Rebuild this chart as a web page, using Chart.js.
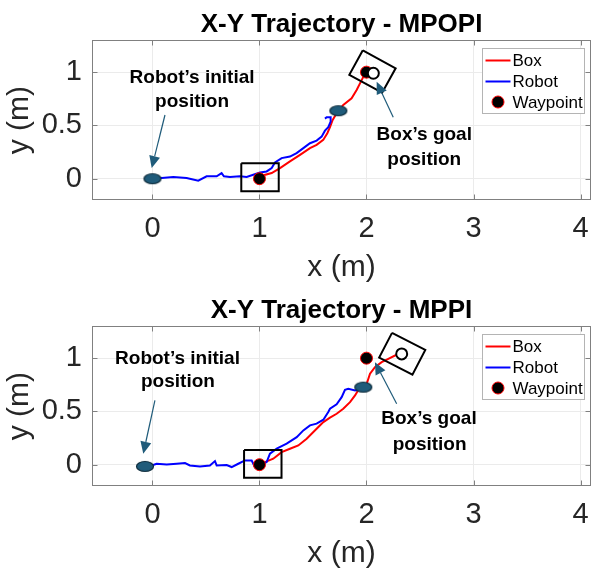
<!DOCTYPE html>
<html><head><meta charset="utf-8">
<script src="https://cdn.jsdelivr.net/npm/chart.js@4/dist/chart.umd.min.js"></script>
<style>
html,body{margin:0;padding:0;background:#fff;overflow:hidden;width:592px;height:569px}
.panel{position:absolute;left:0;width:592px;height:286px}
</style></head><body>
<div class="panel" style="top:0"><canvas id="c1" width="592" height="286"></canvas></div>
<div class="panel" style="top:286px"><canvas id="c2" width="592" height="286"></canvas></div>
<script>
// ---------- data ----------
const xTicks = [0, 1, 2, 3, 4];
const yTicks = [0, 0.5, 1];
const xRange = [-0.565, 4.098];
const yRange = [-0.2, 1.3];
const seriesNames = ['Box', 'Robot', 'Waypoint'];
const waypointX = [1, 2];
const waypointY = [0, 1];
const boxSize = [0.35, 0.262];

// MPOPI
const mpopiRobotX = [0, 0.086, 0.195, 0.319, 0.428, 0.506, 0.6, 0.646, 0.668, 0.724, 0.818, 0.88, 0.942, 1.005, 1.067, 1.114, 1.145, 1.207, 1.285, 1.347, 1.41, 1.472, 1.534, 1.581, 1.612, 1.643, 1.665, 1.665, 1.628, 1.612];
const mpopiRobotY = [0, 0.006, 0.016, 0.006, -0.019, 0.022, 0.022, 0.053, 0.022, 0.016, 0.022, 0.016, 0.037, 0.059, 0.068, 0.1, 0.152, 0.193, 0.208, 0.24, 0.287, 0.333, 0.358, 0.395, 0.451, 0.483, 0.536, 0.577, 0.577, 0.564];
const mpopiBoxX = [1.0, 1.03, 1.114, 1.192, 1.285, 1.379, 1.472, 1.534, 1.596, 1.634, 1.659, 1.684, 1.721, 1.783, 1.861, 1.908, 1.955, 1.986];
const mpopiBoxY = [0.0, 0.03, 0.053, 0.1, 0.162, 0.224, 0.287, 0.318, 0.364, 0.427, 0.483, 0.551, 0.614, 0.692, 0.754, 0.832, 0.925, 0.988];
const mpopiRobotMarkX = [0, 1.737];
const mpopiRobotMarkY = [0, 0.638];
const mpopiGoalX = [2.064];
const mpopiGoalY = [0.99];
const mpopiFrameX = [1.005, 2.056];
const mpopiFrameY = [0.014, 1.006];
const mpopiFrameAngle = [0, -28.8];
const mpopiArrowX0 = [0.117, 2.25], mpopiArrowY0 = [0.598, 0.577];
const mpopiArrowX1 = [-0.007, 2.095], mpopiArrowY1 = [0.1, 0.909];
const noteText = ['Robot\u2019s initial', 'position', 'Box\u2019s goal', 'position'];
const mpopiNoteX = [0.37, 0.37, 2.54, 2.54];
const mpopiNoteY = [0.952, 0.722, 0.411, 0.178];

// MPPI
const mppiRobotX = [-0.07, -0.007, 0.039, 0.133, 0.226, 0.304, 0.35, 0.444, 0.537, 0.584, 0.6, 0.693, 0.74, 0.802, 0.864, 0.927, 0.958, 1.0, 1.036, 1.067, 1.098, 1.161, 1.254, 1.348, 1.41, 1.472, 1.534, 1.597, 1.643, 1.659, 1.721, 1.768, 1.799, 1.83, 1.893, 1.955];
const mppiRobotY = [-0.015, -0.007, 0.009, 0.003, 0.009, 0.015, -0.007, -0.016, -0.007, 0.034, -0.007, -0.004, -0.022, 0.009, 0.04, 0.04, -0.022, 0.0, 0.009, 0.024, 0.103, 0.15, 0.197, 0.259, 0.322, 0.369, 0.385, 0.422, 0.494, 0.525, 0.566, 0.634, 0.703, 0.713, 0.697, 0.713];
const mppiBoxX = [1.0, 1.051, 1.129, 1.207, 1.285, 1.363, 1.441, 1.534, 1.597, 1.659, 1.721, 1.783, 1.846, 1.893, 1.939, 2.002, 2.033, 2.079, 2.142, 2.204, 2.266, 2.329];
const mppiBoxY = [0.0, 0.024, 0.056, 0.118, 0.15, 0.181, 0.244, 0.338, 0.4, 0.441, 0.478, 0.525, 0.587, 0.65, 0.728, 0.76, 0.854, 0.916, 0.962, 0.994, 1.025, 1.04];
const mppiRobotMarkX = [-0.07, 1.97];
const mppiRobotMarkY = [-0.016, 0.728];
const mppiGoalX = [2.329];
const mppiGoalY = [1.04];
const mppiFrameX = [1.031, 2.334];
const mppiFrameY = [0.008, 1.041];
const mppiFrameAngle = [0, -27.3];
const mppiArrowX0 = [0.023, 2.282], mppiArrowY0 = [0.603, 0.572];
const mppiArrowX1 = [-0.086, 2.079], mppiArrowY1 = [0.103, 0.962];
const mppiNoteX = [0.234, 0.238, 2.584, 2.59];
const mppiNoteY = [0.997, 0.775, 0.434, 0.19];

// ---------- helpers ----------
const TEAL = '#1f5b7a';
const FONT = "'Liberation Sans', Arial, Helvetica, sans-serif";
const zip = (xs, ys) => xs.map((v, i) => ({x: v, y: ys[i]}));

function ellipseCanvas() {
  const c = document.createElement('canvas');
  c.width = 20; c.height = 13;
  const g = c.getContext('2d');
  g.beginPath(); g.ellipse(10, 6.5, 8.5, 5, 0, 0, Math.PI * 2);
  g.fillStyle = TEAL; g.fill();
  g.lineWidth = 1.2; g.strokeStyle = '#0d2c3c'; g.stroke();
  return c;
}
const ellipseImg = ellipseCanvas();

function framePoints(cx, cy, angDeg) {
  const a = angDeg * Math.PI / 180, hw = boxSize[0] / 2, hh = boxSize[1] / 2;
  const loc = [[-hw, hh], [hw, hh], [hw, -hh], [-hw, -hh], [-hw, hh]];
  return loc.map(([u, v]) => ({x: cx + u * Math.cos(a) - v * Math.sin(a), y: cy + u * Math.sin(a) + v * Math.cos(a)}));
}

// keep the plot area running to the right edge of the canvas (as in the source figure)
const fixArea = {
  id: 'fixArea',
  afterLayout(chart) {
    const R = chart.width - 1, a = chart.chartArea;
    a.right = R; a.width = R - a.left;
    chart.boxes.forEach(b => {
      if ((b.position === 'bottom' || b.position === 'top') && !b.fullSize) {
        b.right = R; b.width = R - b.left;
        if (b.configure) b.configure();
      }
    });
  }
};

const decor = {
  id: 'decor',
  afterDraw(chart) {
    const o = chart.options.plugins.decor;
    const {ctx, chartArea: a} = chart;
    const x = chart.scales.x, y = chart.scales.y;
    ctx.save();
    ctx.strokeStyle = '#808080'; ctx.lineWidth = 1;
    const L = Math.round(a.left) + 0.5, T = Math.round(a.top) + 0.5, R = Math.round(a.right) - 0.5, B = Math.round(a.bottom) - 0.5;
    ctx.strokeRect(L, T, R - L, B - T);
    ctx.beginPath();
    xTicks.forEach(v => { const p = Math.round(x.getPixelForValue(v)) + 0.5; ctx.moveTo(p, B); ctx.lineTo(p, B - 5); ctx.moveTo(p, T); ctx.lineTo(p, T + 5); });
    yTicks.forEach(v => { const p = Math.round(y.getPixelForValue(v)) + 0.5; ctx.moveTo(L, p); ctx.lineTo(L + 5, p); ctx.moveTo(R, p); ctx.lineTo(R - 5, p); });
    ctx.stroke();
    ctx.fillStyle = '#262626'; ctx.font = '29px ' + FONT;
    ctx.textAlign = 'center'; ctx.textBaseline = 'middle';
    xTicks.forEach(v => ctx.fillText(String(v), x.getPixelForValue(v), a.bottom + 29));
    o.ax0.forEach((v, i) => {
      const x0 = x.getPixelForValue(v), y0 = y.getPixelForValue(o.ay0[i]);
      const x1 = x.getPixelForValue(o.ax1[i]), y1 = y.getPixelForValue(o.ay1[i]);
      const ang = Math.atan2(y1 - y0, x1 - x0), hl = 12, hw = 5.5;
      const bx = x1 - hl * Math.cos(ang), by = y1 - hl * Math.sin(ang);
      ctx.strokeStyle = TEAL; ctx.fillStyle = TEAL; ctx.lineWidth = 1.2;
      ctx.beginPath(); ctx.moveTo(x0, y0); ctx.lineTo(bx, by); ctx.stroke();
      ctx.beginPath(); ctx.moveTo(x1, y1);
      ctx.lineTo(bx + hw * Math.sin(ang), by - hw * Math.cos(ang));
      ctx.lineTo(bx - hw * Math.sin(ang), by + hw * Math.cos(ang));
      ctx.closePath(); ctx.fill();
    });
    ctx.fillStyle = '#000'; ctx.font = 'bold 19px ' + FONT;
    noteText.forEach((t, i) => ctx.fillText(t, x.getPixelForValue(o.nx[i]), y.getPixelForValue(o.ny[i])));
    const lw = 102, lh = 65, lx = Math.round(a.right) - 7 - lw + 0.5, ly = Math.round(a.top) + 8 + 0.5;
    ctx.fillStyle = '#fff'; ctx.fillRect(lx, ly, lw, lh);
    ctx.strokeStyle = '#b4b4b4'; ctx.lineWidth = 1; ctx.strokeRect(lx, ly, lw, lh);
    ctx.font = '17px ' + FONT; ctx.textAlign = 'left'; ctx.textBaseline = 'middle';
    const rows = [12, 33, 53.5];
    const ds = chart.data.datasets;
    [0, 1].forEach(i => {
      ctx.strokeStyle = ds[i].borderColor; ctx.lineWidth = 2;
      ctx.beginPath(); ctx.moveTo(lx + 3, ly + rows[i]); ctx.lineTo(lx + 28, ly + rows[i]); ctx.stroke();
    });
    ctx.beginPath(); ctx.arc(lx + 15.5, ly + rows[2], 6, 0, Math.PI * 2);
    ctx.fillStyle = '#000'; ctx.fill(); ctx.strokeStyle = '#ff0000'; ctx.lineWidth = 1; ctx.stroke();
    ctx.fillStyle = '#000';
    seriesNames.forEach((t, i) => ctx.fillText(t, lx + 30, ly + rows[i] + 1));
    ctx.restore();
  }
};

function makeChart(id, title, rx, ry, bx, by, mx, my, gx, gy, fx, fy, fa, ax0, ay0, ax1, ay1, nx, ny) {
  const frames = fx.map((v, i) => ({
    label: 'frame' + i, data: framePoints(v, fy[i], fa[i]), showLine: true,
    borderColor: '#000', borderWidth: 2, pointRadius: 0, order: 0, fill: false
  }));
  const datasets = [
    {label: seriesNames[0], data: zip(bx, by), showLine: true, borderColor: '#ff0000', borderWidth: 2, pointRadius: 0, order: 6},
    {label: seriesNames[1], data: zip(rx, ry), showLine: true, borderColor: '#0000ff', borderWidth: 2, pointRadius: 0, order: 5},
    {label: seriesNames[2], data: zip(waypointX, waypointY), showLine: false, pointRadius: 6, pointBackgroundColor: '#000', pointBorderColor: '#ff0000', pointBorderWidth: 1, order: 4},
    {label: 'robot', data: zip(mx, my), showLine: false, pointStyle: ellipseImg, pointRadius: 8, order: 3},
    {label: 'goal', data: zip(gx, gy), showLine: false, pointRadius: 5.5, pointBackgroundColor: '#fff', pointBorderColor: '#000', pointBorderWidth: 2, order: 2},
    ...frames
  ];
  return new Chart(document.getElementById(id), {
    type: 'scatter',
    data: {datasets},
    options: {
      responsive: false, animation: false, events: [],
      layout: {padding: {left: 0, right: 1, top: 0, bottom: 0}},
      plugins: {
        legend: {display: false}, tooltip: {enabled: false},
        title: {display: true, text: title, fullSize: false, color: '#000', font: {size: 26, weight: 'bold', family: FONT}, padding: {top: 9, bottom: 0}},
        decor: {ax0, ay0, ax1, ay1, nx, ny}
      },
      scales: {
        x: {
          type: 'linear', min: xRange[0], max: xRange[1],
          afterBuildTicks: s => { s.ticks = xTicks.map(v => ({value: v})); },
          afterFit: s => { s.height = 86; },
          ticks: {display: false},
          grid: {color: '#ebebeb', drawTicks: false},
          border: {display: false},
          title: {display: true, text: 'x (m)', color: '#262626', font: {size: 30, family: FONT}, padding: {top: 0, bottom: 0}}
        },
        y: {
          type: 'linear', min: yRange[0], max: yRange[1],
          afterBuildTicks: s => { s.ticks = yTicks.map(v => ({value: v})); },
          afterFit: s => { s.width = 92; },
          ticks: {autoSkip: false, padding: 10, color: '#262626', font: {size: 29, family: FONT}, callback: v => String(v)},
          grid: {color: '#ebebeb', drawTicks: false},
          border: {display: false},
          title: {display: true, text: 'y (m)', color: '#262626', font: {size: 30, family: FONT}, padding: {top: 2, bottom: 0}}
        }
      }
    },
    plugins: [fixArea, decor]
  });
}

makeChart('c1', 'X-Y Trajectory - MPOPI', mpopiRobotX, mpopiRobotY, mpopiBoxX, mpopiBoxY, mpopiRobotMarkX, mpopiRobotMarkY, mpopiGoalX, mpopiGoalY, mpopiFrameX, mpopiFrameY, mpopiFrameAngle, mpopiArrowX0, mpopiArrowY0, mpopiArrowX1, mpopiArrowY1, mpopiNoteX, mpopiNoteY);
makeChart('c2', 'X-Y Trajectory - MPPI', mppiRobotX, mppiRobotY, mppiBoxX, mppiBoxY, mppiRobotMarkX, mppiRobotMarkY, mppiGoalX, mppiGoalY, mppiFrameX, mppiFrameY, mppiFrameAngle, mppiArrowX0, mppiArrowY0, mppiArrowX1, mppiArrowY1, mppiNoteX, mppiNoteY);
</script>
</body></html>
